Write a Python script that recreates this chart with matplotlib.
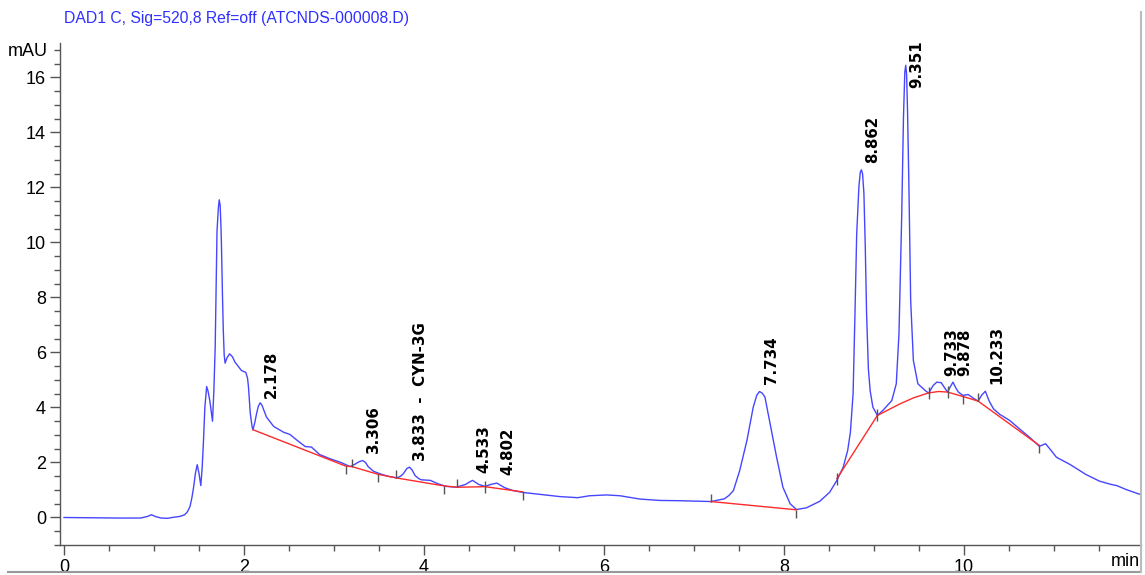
import matplotlib
matplotlib.use("Agg")
import matplotlib.pyplot as plt
from matplotlib.ticker import MultipleLocator
from matplotlib.lines import Line2D

# signal trace (min, mAU)
TIME = [0.00, 0.30, 0.60, 0.85, 0.93, 0.97, 1.02, 1.08, 1.15, 1.22, 1.29, 1.34, 1.37, 1.40,
        1.42, 1.44, 1.46, 1.48, 1.50, 1.52, 1.535, 1.55, 1.565, 1.585, 1.60, 1.62, 1.65, 1.665,
        1.68, 1.69, 1.70, 1.715, 1.725, 1.735, 1.745, 1.75, 1.76, 1.77, 1.78, 1.79, 1.81, 1.84, 1.87,
        1.90, 1.94, 1.97, 2.00, 2.02, 2.04, 2.05, 2.07, 2.09, 2.10, 2.12, 2.14, 2.16, 2.18,
        2.20, 2.25, 2.33, 2.44, 2.51, 2.585, 2.68, 2.75, 2.84, 2.96, 3.07, 3.18, 3.23, 3.28,
        3.32, 3.35, 3.38, 3.44, 3.51, 3.60, 3.70, 3.74, 3.77, 3.81, 3.84, 3.87, 3.90, 3.94,
        3.97, 4.07, 4.16, 4.25, 4.36, 4.46, 4.54, 4.61, 4.68, 4.74, 4.81, 4.90, 4.99, 5.10,
        5.29, 5.51, 5.71, 5.84, 6.03, 6.18, 6.40, 6.62, 6.84, 7.19, 7.34, 7.39, 7.44, 7.51,
        7.59, 7.66, 7.70, 7.73, 7.76, 7.79, 7.84, 7.92, 7.99, 8.07, 8.14, 8.25, 8.40, 8.51,
        8.59, 8.66, 8.71, 8.74, 8.77, 8.79, 8.81, 8.835, 8.85, 8.862, 8.875, 8.89, 8.905, 8.92, 8.94, 8.96,
        8.99, 9.04, 9.10, 9.20, 9.25, 9.28, 9.31, 9.33, 9.345, 9.355, 9.365, 9.375, 9.39, 9.41,
        9.44, 9.49, 9.57, 9.61, 9.66, 9.70, 9.75, 9.79, 9.82, 9.85, 9.88, 9.91, 9.94, 9.99,
        10.05, 10.10, 10.16, 10.20, 10.24, 10.28, 10.33, 10.40, 10.51, 10.62, 10.73, 10.84,
        10.91, 10.97, 11.03, 11.18, 11.36, 11.51, 11.64, 11.70, 11.81, 11.96]
SIGNAL = [0.00, -0.01, -0.02, -0.02, 0.04, 0.10, 0.03, -0.02, -0.03, 0.01, 0.04, 0.10, 0.20, 0.40,
          0.70, 1.10, 1.60, 1.92, 1.60, 1.16, 1.80, 2.80, 4.00, 4.76, 4.60, 4.25, 3.50, 4.60,
          6.20, 8.20, 10.40, 11.25, 11.55, 11.35, 10.50, 9.83, 8.20, 6.80, 5.90, 5.61, 5.80, 5.95, 5.85,
          5.65, 5.48, 5.35, 5.30, 5.28, 5.05, 4.74, 3.78, 3.30, 3.19, 3.45, 3.78, 4.05, 4.17,
          4.08, 3.65, 3.31, 3.10, 3.02, 2.82, 2.58, 2.56, 2.29, 2.13, 2.01, 1.85, 1.93, 2.03,
          2.07, 2.00, 1.85, 1.68, 1.59, 1.50, 1.44, 1.50, 1.59, 1.78, 1.83, 1.72, 1.53, 1.42,
          1.37, 1.35, 1.22, 1.13, 1.10, 1.20, 1.35, 1.20, 1.13, 1.20, 1.25, 1.08, 0.98, 0.91,
          0.84, 0.76, 0.72, 0.79, 0.82, 0.79, 0.67, 0.62, 0.61, 0.58, 0.68, 0.80, 0.98, 1.71,
          2.80, 4.01, 4.45, 4.58, 4.52, 4.38, 3.53, 2.19, 1.10, 0.50, 0.29, 0.35, 0.59, 0.92,
          1.35, 1.83, 2.44, 3.10, 4.50, 7.28, 10.30, 12.05, 12.55, 12.64, 12.50, 11.80, 9.90, 7.40, 5.40, 4.60,
          4.01, 3.71, 3.89, 4.25, 4.86, 6.68, 10.92, 14.56, 16.20, 16.44, 16.10, 14.80, 12.13, 7.89,
          5.71, 4.86, 4.62, 4.52, 4.80, 4.92, 4.90, 4.70, 4.56, 4.75, 4.92, 4.72, 4.56, 4.44,
          4.47, 4.35, 4.23, 4.45, 4.59, 4.25, 3.95, 3.75, 3.53, 3.22, 2.92, 2.59,
          2.68, 2.44, 2.19, 1.93, 1.56, 1.32, 1.20, 1.16, 1.01, 0.84]

# integration baselines (red)
BASE1_T = [2.10, 3.13, 3.20, 3.49, 3.69, 4.22, 4.37, 4.68, 5.10]
BASE1_Y = [3.19, 1.87, 1.85, 1.57, 1.44, 1.15, 1.10, 1.12, 0.93]
BASE2_T = [7.19, 8.14]
BASE2_Y = [0.58, 0.28]
BASE3_T = [8.59, 9.04, 9.29, 9.45, 9.61, 9.72, 9.82, 9.99, 10.16, 10.84]
BASE3_Y = [1.41, 3.71, 4.13, 4.36, 4.53, 4.58, 4.56, 4.40, 4.23, 2.62]

# peak start/stop marks: 'u' above line, 'd' below, 'x' through
MARK_T = [3.13, 3.20, 3.49, 3.69, 4.22, 4.37, 4.68, 5.10, 7.19, 8.14, 8.59, 9.04, 9.61, 9.82, 9.99, 10.16, 10.84]
MARK_Y = [1.87, 1.85, 1.57, 1.44, 1.15, 1.10, 1.12, 0.93, 0.58, 0.28, 1.41, 3.71, 4.53, 4.56, 4.40, 4.23, 2.62]
MARK_K = ['d', 'u', 'd', 'u', 'd', 'u', 'x', 'd', 'u', 'd', 'x', 'x', 'x', 'x', 'd', 'u', 'd']

# peak labels
LABELS = ["2.178", "3.306", "3.833  -  CYN-3G", "4.533", "4.802", "7.734",
          "8.862", "9.351", "9.733", "9.878", "10.233"]
LABEL_T = [2.178, 3.306, 3.833, 4.533, 4.802, 7.734, 8.862, 9.351, 9.733, 9.878, 10.233]
LABEL_Y = [4.36, 2.33, 2.07, 1.60, 1.53, 4.87, 12.87, 15.6, 5.16, 5.16, 4.87]

TICKFONT = ['Liberation Sans Narrow', 'Liberation Sans', 'DejaVu Sans']

fig = plt.figure(figsize=(11.45, 5.75), dpi=100)
ax = fig.add_axes([60/1145, 1 - 545/575, (1141 - 60)/1145, (545 - 43)/575])

ax.plot(TIME, SIGNAL, color="#4646ff", lw=1.0)
for bt, by in ((BASE1_T, BASE1_Y), (BASE2_T, BASE2_Y), (BASE3_T, BASE3_Y)):
    ax.plot(bt, by, color="#ff2a2a", lw=1.0)

mk = {'u': 2, 'd': 3, 'x': '|'}
for t, y, k in zip(MARK_T, MARK_Y, MARK_K):
    ax.plot([t], [y], marker=mk[k], color="#555555", ms=6 if k != 'x' else 9, mew=1.0)

for s, t, y in zip(LABELS, LABEL_T, LABEL_Y):
    ax.annotate(s, (t, y), xytext=(3, 0), textcoords="offset points",
                rotation=90, ha="left", va="bottom", fontsize=10.8,
                fontweight="bold", family="DejaVu Sans", color="black")

ax.set_xlim(-0.045, 11.97)
ax.set_ylim(-1.0, 17.25)
ax.xaxis.set_major_locator(MultipleLocator(2))
ax.xaxis.set_minor_locator(MultipleLocator(0.5))
ax.yaxis.set_major_locator(MultipleLocator(2))
ax.yaxis.set_minor_locator(MultipleLocator(0.5))
ax.tick_params(which="major", length=7, width=1.0, color="#555555", labelsize=13, pad=3)
ax.tick_params(which="minor", length=4, width=1.0, color="#555555")
for lab in ax.get_xticklabels() + ax.get_yticklabels():
    lab.set_family(TICKFONT)
for side in ("top", "right"):
    ax.spines[side].set_visible(False)
for side in ("left", "bottom"):
    ax.spines[side].set_color("#555555")
    ax.spines[side].set_linewidth(1.0)

fig.text(48/1145, 1 - 52/575, "mAU", ha="right", va="center", fontsize=13, family=TICKFONT)
fig.text(1140/1145, 1 - 562/575, "min", ha="right", va="center", fontsize=13, family=TICKFONT)
fig.text(64/1145, 1 - 18/575, "DAD1 C, Sig=520,8 Ref=off (ATCNDS-000008.D)",
         ha="left", va="center", fontsize=11.3, color="#2f2fff",
         family=['Liberation Sans', 'DejaVu Sans'])

# frame lines at bottom and right edge
fig.add_artist(Line2D([8/1145, 1141/1145], [3/575, 3/575], color="#999999", lw=1.5))
fig.add_artist(Line2D([1141/1145, 1141/1145], [3/575, 1 - 12/575], color="#bbbbbb", lw=1.5))

fig.savefig("out.png", dpi=100)
